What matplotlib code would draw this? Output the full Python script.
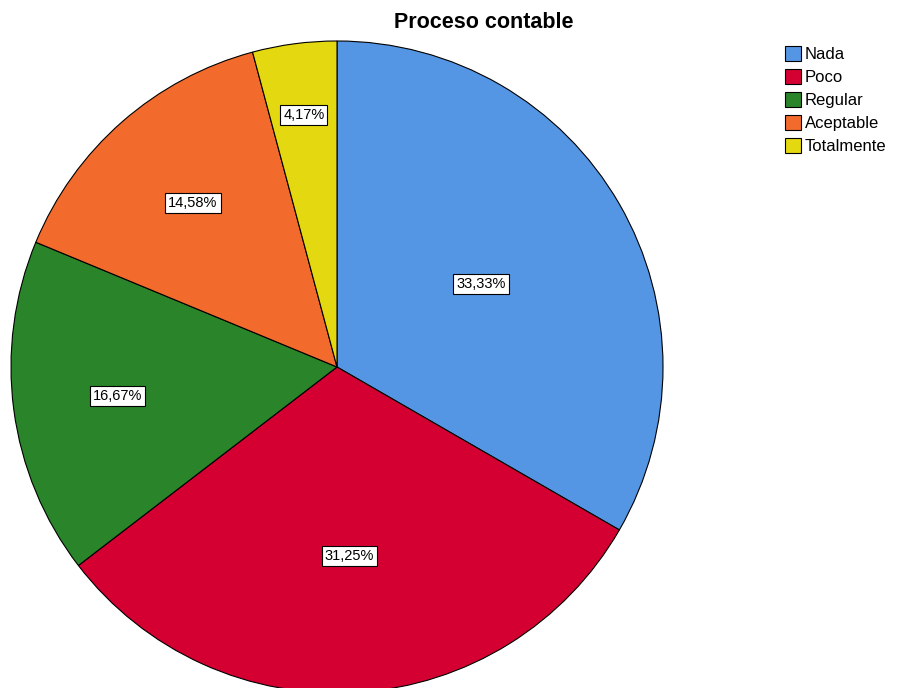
import numpy as np
import matplotlib.pyplot as plt

categorias = ['Nada', 'Poco', 'Regular', 'Aceptable', 'Totalmente']
porcentajes = [33.33, 31.25, 16.67, 14.58, 4.17]
colores = ['#5496e4', '#d50032', '#2a852a', '#f26a2c', '#e4d811']
# distancia de cada etiqueta al centro (fraccion del radio)
dist_etiqueta = [0.51, 0.58, 0.68, 0.67, 0.78]

plt.rcParams['font.family'] = ['Liberation Sans', 'DejaVu Sans']

fig = plt.figure(figsize=(8.99, 6.88), dpi=100)
W, H = 899, 688
cx, cy, r = 337, 367, 326
ax = fig.add_axes([(cx - r) / W, (H - cy - r) / H, 2 * r / W, 2 * r / H])

wedges, _ = ax.pie(porcentajes, colors=colores, startangle=90, counterclock=False,
                   radius=1, wedgeprops=dict(edgecolor='black', linewidth=0.8))
for w in wedges:
    w.set_clip_on(False)

inicio = 90.0
for p, d in zip(porcentajes, dist_etiqueta):
    ang = np.deg2rad(inicio - p * 3.6 / 2)
    inicio -= p * 3.6
    ax.text(d * np.cos(ang), d * np.sin(ang), ('%.2f%%' % p).replace('.', ','),
            ha='center', va='center', fontsize=10.5,
            bbox=dict(boxstyle='square,pad=0.2', facecolor='white',
                      edgecolor='black', linewidth=0.8))

ax.set_xlim(-1, 1)
ax.set_ylim(-1, 1)
ax.set_aspect('equal')
ax.axis('off')

fig.text(484 / W, 1 - 22 / H, 'Proceso contable', ha='center', va='center',
         fontsize=15.5, fontweight='bold')

leg = fig.legend(wedges, categorias, loc='upper left', bbox_to_anchor=(778 / W, 1 - 39 / H),
                 frameon=False, fontsize=12, handlelength=1.0, handleheight=1.0,
                 handletextpad=0.2, labelspacing=0.42, borderaxespad=0)

fig.savefig('out.png', dpi=100)
